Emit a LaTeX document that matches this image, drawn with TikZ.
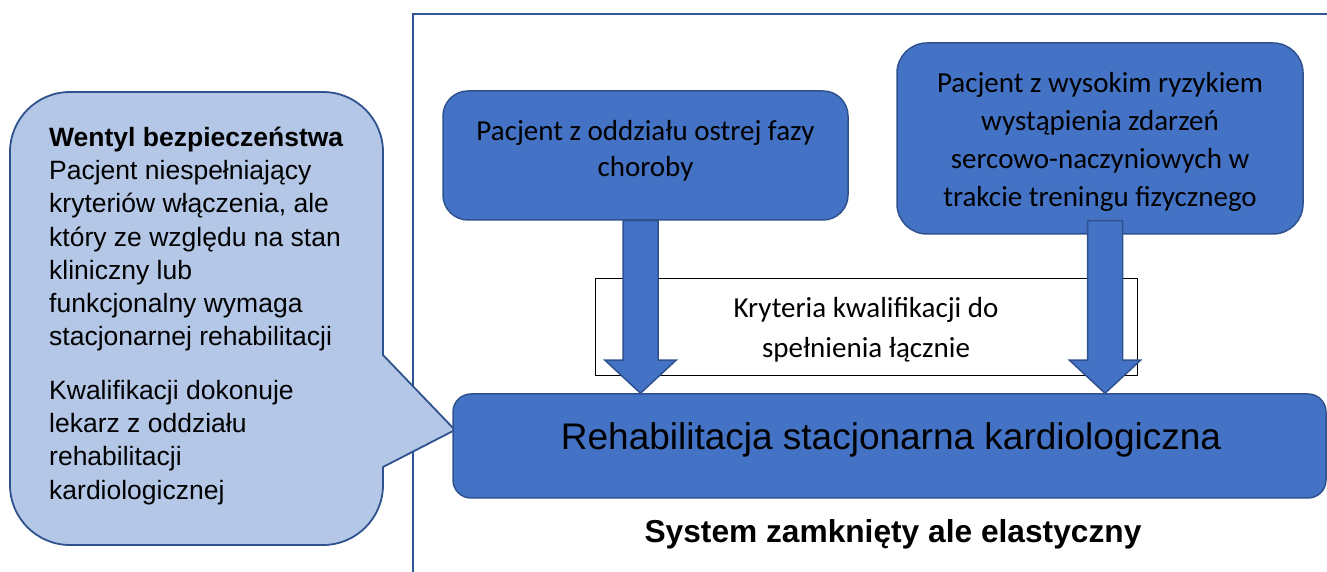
\documentclass[tikz,border=0pt]{standalone}
\usepackage{fontspec}
\setmainfont{Liberation Sans}
\newfontfamily\calfont{Carlito}
\usetikzlibrary{calc}
\definecolor{obfill}{HTML}{4472C4}
\definecolor{obline}{HTML}{2F528F}
\definecolor{lightfill}{HTML}{B4C7E7}
\definecolor{frameblue}{HTML}{2F5597}
\newcommand\blockarrow[2]{%
  \draw[fatarrow] ($(#1)+(-17.5,0)$) -- ($(#2)+(-17.5,33)$) -- ($(#2)+(-35.5,33)$) -- (#2)
    -- ($(#2)+(35.5,33)$) -- ($(#2)+(17.5,33)$) -- ($(#1)+(17.5,0)$) -- cycle;}
\begin{document}
\begin{tikzpicture}[x=1pt,y=1pt,
  bluebox/.style={draw=obline, line width=1.5pt, fill=obfill, rounded corners=#1, inner sep=0},
  boxtext/.style={font=\calfont\fontsize{29}{#1}\selectfont, inner sep=0, align=center, text=black},
  fatarrow/.style={draw=obline, line width=1.5pt, fill=obfill, line join=miter},
  calloutshape/.style={draw=obline, line width=1.8pt, fill=lightfill, line join=miter},
  frameline/.style={draw=frameblue, line width=1.8pt}]
\useasboundingbox (0,0) rectangle (1327,572);
% frame
\coordinate (fcorner) at (413,558);
\draw[frameline] (413,-2) -- (fcorner) -- (1330,558);
% callout
\draw[calloutshape] (70,480) -- (323,480) arc[start angle=90,end angle=0,radius=60]
  -- (383,217) -- (455,142) -- (383,105) -- (383,87) arc[start angle=0,end angle=-90,radius=60]
  -- (70,27) arc[start angle=270,end angle=180,radius=60]
  -- (10,420) arc[start angle=180,end angle=90,radius=60] -- cycle;
\node[anchor=north west, align=left, inner sep=0, font=\fontsize{26.5}{33.3}\selectfont] (ct) at (49,445.5)
  {\textbf{Wentyl bezpieczeństwa}\\Pacjent niespełniający\\kryteriów włączenia, ale\\który ze względu na stan\\kliniczny lub\\funkcjonalny wymaga\\stacjonarnej rehabilitacji\\[20pt]Kwalifikacji dokonuje\\lekarz z oddziału\\rehabilitacji\\kardiologicznej};
% boxes
\node[bluebox=25pt, minimum width=405pt, minimum height=129pt] (box1) at (645.5,416.5) {};
\node[boxtext=36] (t1) at (645.5,421) {Pacjent z oddziału ostrej fazy\\choroby};
\node[bluebox=30pt, minimum width=406pt, minimum height=191pt] (box2) at (1100,433.5) {};
\node[boxtext=38] (t2) at (1100,430) {Pacjent z wysokim ryzykiem\\wystąpienia zdarzeń\\sercowo-naczyniowych w\\trakcie treningu fizycznego};
\node[draw=black, line width=1pt, fill=white, minimum width=542pt, minimum height=97pt] (crit) at (866,244.5) {};
\node[boxtext=40] (t3) at (866,242) {Kryteria kwalifikacji do\\spełnienia łącznie};
\node[bluebox=18pt, minimum width=873pt, minimum height=104pt] (main) at (889.5,126) {};
\node[anchor=base, inner sep=0, font=\fontsize{37}{44}\selectfont] (mt) at (891,122) {Rehabilitacja stacjonarna kardiologiczna};
\node[anchor=base, inner sep=0, font=\bfseries\fontsize{31.7}{38}\selectfont] (title) at (893,29) {System zamknięty ale elastyczny};
% arrows
\coordinate (a1top) at ($(box1.south)+(-5,0)$);
\coordinate (a1tip) at (a1top |- main.north);
\coordinate (a2top) at ($(box2.south)+(5,14)$);
\coordinate (a2tip) at (a2top |- main.north);
\blockarrow{a1top}{a1tip}
\blockarrow{a2top}{a2tip}
\end{tikzpicture}
\end{document}
